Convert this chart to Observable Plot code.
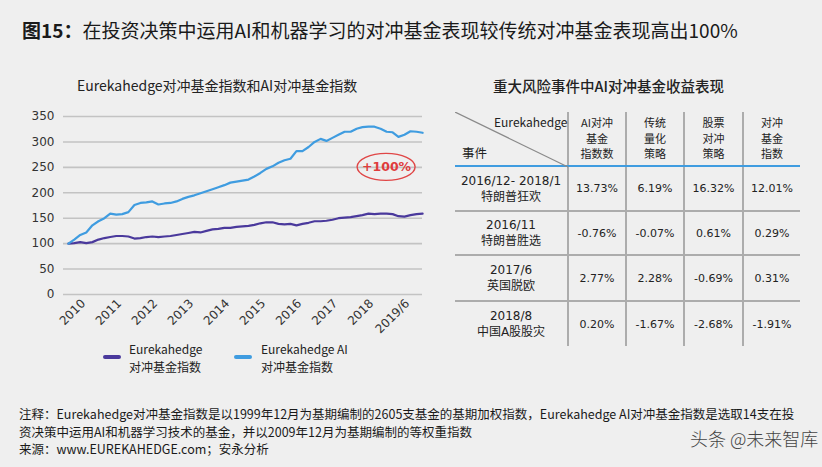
<!DOCTYPE html>
<html>
<head>
<meta charset="utf-8">
<script src="https://cdn.jsdelivr.net/npm/d3@7"></script>
<script src="https://cdn.jsdelivr.net/npm/@observablehq/plot@0.6"></script>
<style>
  html, body { margin:0; padding:0; }
  body { width:822px; height:467px; background:#efefef; position:relative; overflow:hidden;
         font-family:"Noto Sans CJK SC", sans-serif; color:#222; }
  .abs { position:absolute; white-space:nowrap; }
  #title { left:22px; top:16px; font-size:19px; color:#1a1a1a; }
  #title b { font-weight:700; }
  #ctitle { left:77px; top:75px; font-size:14px; color:#222; }
  #ttitle { left:493px; top:75px; font-size:14.5px; color:#222; font-weight:500; }
  #chart { left:0; top:100px; }
  .leg { font-size:12px; line-height:17.5px; color:#222; }
  .sw { position:absolute; width:18px; height:4px; border-radius:2px; }
  #note { left:19px; top:405px; font-size:12.5px; line-height:17.5px; color:#1a1a1a; }
  #wm { left:690px; top:425px; font-size:18px; color:#444; font-weight:300; }
  table { position:absolute; left:455px; top:112px; border-collapse:collapse; table-layout:fixed;
          font-family:"DejaVu Sans", "Noto Sans CJK SC", sans-serif; color:#222; }
  td { text-align:center; vertical-align:middle; padding:0; font-size:11px; }
  td.lab { font-size:12px; line-height:16px; }
  th { font-weight:400; font-family:"Noto Sans CJK SC", sans-serif; font-size:11px; line-height:15.5px;
       vertical-align:middle; text-align:center; padding:0; }
  tr.head th { height:53px; border-bottom:2px solid #3f9ce0; }
  tr.body td { border-bottom:2px solid #acacac; }
  tr.body:last-child td { border-bottom:none; }
  th + th, td + td { border-left:2px solid #acacac; }
</style>
</head>
<body>
<div id="title" class="abs"><b>图15：</b>在投资决策中运用AI和机器学习的对冲基金表现较传统对冲基金表现高出100%</div>
<div id="ctitle" class="abs">Eurekahedge对冲基金指数和AI对冲基金指数</div>
<div id="ttitle" class="abs">重大风险事件中AI对冲基金收益表现</div>
<div id="chart" class="abs"></div>
<div id="legend"></div>
<div id="tablewrap"></div>
<div id="note" class="abs">注释：Eurekahedge对冲基金指数是以1999年12月为基期编制的2605支基金的基期加权指数，Eurekahedge AI对冲基金指数是选取14支在投<br>资决策中运用AI和机器学习技术的基金，并以2009年12月为基期编制的等权重指数<br>来源：www.EUREKAHEDGE.com；安永分析</div>
<div id="wm" class="abs">头条 @未来智库</div>
<script>
// ---- data (bi-monthly readings, starting Dec 2009) ----
const seriesNames = ["Eurekahedge\n对冲基金指数", "Eurekahedge AI\n对冲基金指数"];
const seriesColors = ["#4a399c", "#3f9ce0"];
const hedgeValues = [100,101,103,101,103,108,111,113,115,115,114,110,111,113,114,113,114,115,117,119,
  121,123,122,125,128,129,131,131,133,134,135,137,140,142,142,139,138,139,136,139,
  141,144,144,145,147,150,151,152,154,156,159,158,159,159,158,154,153,156,158,159];
const aiValues = [100,108,117,122,136,144,150,159,157,158,162,176,180,181,183,177,179,180,183,188,
  192,195,199,203,207,211,215,220,222,224,226,232,239,247,252,259,264,267,282,282,
  290,300,306,302,308,314,320,320,326,329,330,330,326,320,319,310,314,321,320,318];
const yTicks = [0,50,100,150,200,250,300,350];
const xTickDates = ["2010-06","2011-06","2012-06","2013-06","2014-06","2015-06","2016-06","2017-06","2018-06","2019-06"];
const xTickLabels = ["2010","2011","2012","2013","2014","2015","2016","2017","2018","2019/6"];
const annotation = {date:"2018-11", value:250, text:"+100%"};

const tableCols = ["AI对冲\n基金\n指数数", "传统\n量化\n策略", "股票\n对冲\n策略", "对冲\n基金\n指数"];
const tableEvents = ["2016/12- 2018/1\n特朗普狂欢", "2016/11\n特朗普胜选", "2017/6\n英国脱欧", "2018/8\n中国A股股灾"];
const colAI = ["13.73%", "-0.76%", "2.77%", "0.20%"];
const colQuant = ["6.19%", "-0.07%", "2.28%", "-1.67%"];
const colEquity = ["16.32%", "0.61%", "-0.69%", "-2.68%"];
const colHF = ["12.01%", "0.29%", "0.31%", "-1.91%"];

// ---- build ----
const parse = d3.utcParse("%Y-%m");
const dates = d3.utcMonth.every(2).range(new Date(Date.UTC(2009,11,1)), new Date(Date.UTC(2019,11,1)));
const hedge = hedgeValues.map((v,i)=>({date:dates[i], value:v}));
const ai = aiValues.map((v,i)=>({date:dates[i], value:v}));
const tickDates = xTickDates.map(parse);
const labelMap = new Map(tickDates.map((d,i)=>[+d, xTickLabels[i]]));

const plot = Plot.plot({
  width: 440, height: 240,
  marginTop: 16, marginLeft: 63, marginRight: 18, marginBottom: 46,
  style: {background:"transparent", fontFamily:"'DejaVu Sans', sans-serif", fontSize:"12px", color:"#333", overflow:"visible"},
  x: {type:"utc", domain:[new Date(Date.UTC(2009,10,12)), new Date(Date.UTC(2019,9,31))]},
  y: {domain:[0,350]},
  marks: [
    Plot.ruleY(yTicks, {stroke:"#c3c3c3", strokeWidth:1.6}),
    Plot.axisY({ticks:yTicks, tickSize:0, tickPadding:9, label:null, fontSize:12}),
    Plot.axisX({ticks:tickDates, tickFormat:d=>labelMap.get(+d), tickSize:0, tickPadding:7, tickRotate:-45, label:null, fontSize:12}),
    Plot.lineY(hedge, {x:"date", y:"value", stroke:seriesColors[0], strokeWidth:2.2}),
    Plot.lineY(ai, {x:"date", y:"value", stroke:seriesColors[1], strokeWidth:2.2}),
    Plot.text([annotation], {x:d=>parse(d.date), y:"value", text:"text", fill:"#e03c3c", fontWeight:"bold", fontSize:12.5})
  ]
});
document.getElementById("chart").appendChild(plot);
// annotation ellipse positioned with the plot's scales
const cx = plot.scale("x").apply(parse(annotation.date));
const cy = plot.scale("y").apply(annotation.value);
d3.select(plot).append("ellipse").attr("cx", cx).attr("cy", cy).attr("rx", 29).attr("ry", 13.5)
  .attr("fill","none").attr("stroke","#e04646").attr("stroke-width",1.4);

// legend
const legend = document.getElementById("legend");
const legPos = [{sx:103, tx:129}, {sx:234, tx:261}];
seriesNames.forEach((name,i)=>{
  const sw = document.createElement("div");
  sw.className = "sw"; sw.style.left = legPos[i].sx + "px"; sw.style.top = "355px"; sw.style.background = seriesColors[i];
  legend.appendChild(sw);
  const t = document.createElement("div");
  t.className = "abs leg"; t.style.left = legPos[i].tx + "px"; t.style.top = "340px";
  t.innerHTML = name.replace("\n","<br>");
  legend.appendChild(t);
});

// table
const rowsHeights = [45, 44, 46, 45];
const colW = [113, 58, 58, 59, 57];
let html = '<table><colgroup>' + colW.map(w=>`<col style="width:${w}px">`).join('') + '</colgroup>';
html += '<tr class="head"><th style="position:relative"></th>' + tableCols.map(c=>`<th>${c.replace(/\n/g,"<br>")}</th>`).join('') + '</tr>';
const cols = [colAI, colQuant, colEquity, colHF];
tableEvents.forEach((ev,r)=>{
  html += `<tr class="body" style="height:${rowsHeights[r]}px"><td class="lab">${ev.replace("\n","<br>")}</td>` +
    cols.map(c=>`<td>${c[r]}</td>`).join('') + '</tr>';
});
html += '</table>';
document.getElementById("tablewrap").innerHTML = html;
// header diagonal + labels
const wrap = document.getElementById("tablewrap");
const diag = d3.select(wrap).append("svg").style("position","absolute").style("left","455px").style("top","112px")
  .attr("width",114).attr("height",56);
diag.append("line").attr("x1",0).attr("y1",0).attr("x2",113).attr("y2",55).attr("stroke","#8a8a8a").attr("stroke-width",1.2);
const l1 = document.createElement("div"); l1.className="abs"; l1.style.cssText="left:494px;top:113px;font-size:12px;font-family:'Noto Sans CJK SC';";
l1.textContent = "Eurekahedge"; wrap.appendChild(l1);
const l2 = document.createElement("div"); l2.className="abs"; l2.style.cssText="left:462px;top:143px;font-size:12.5px;font-family:'Noto Sans CJK SC';";
l2.textContent = "事件"; wrap.appendChild(l2);
</script>
</body>
</html>
